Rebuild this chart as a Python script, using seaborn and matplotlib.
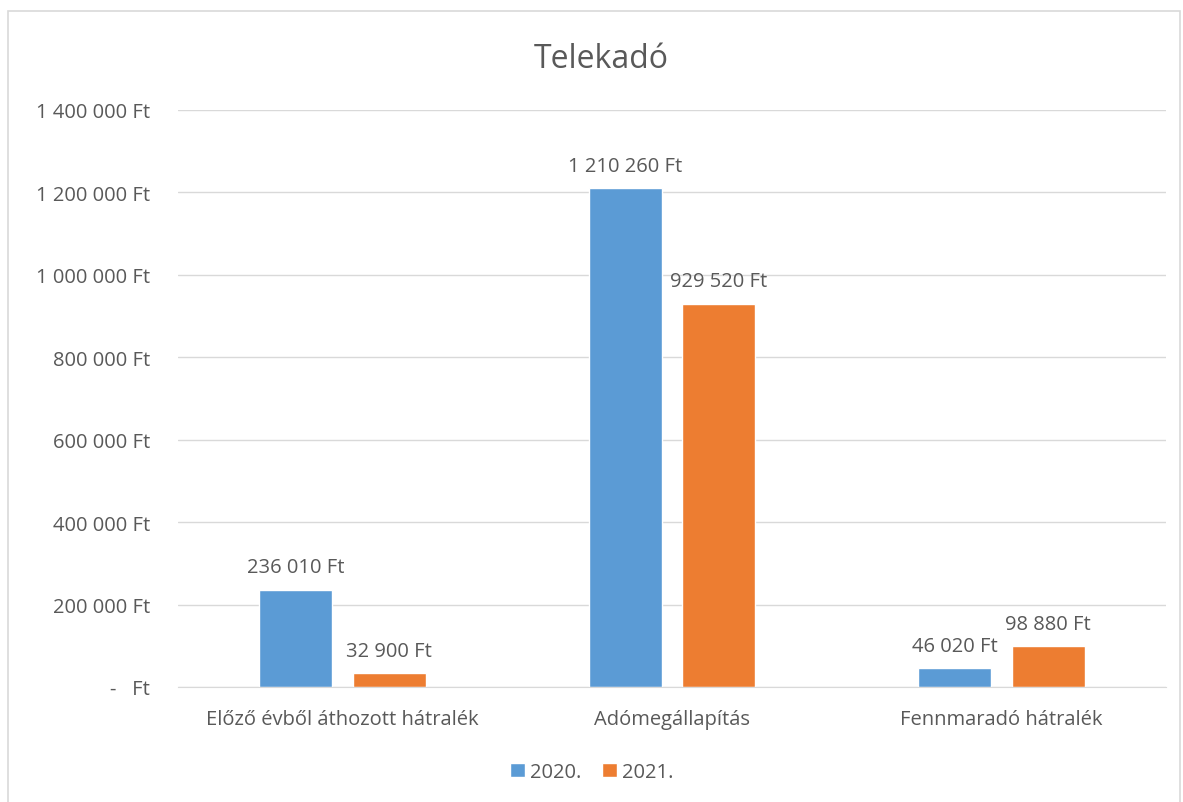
import pandas as pd
import matplotlib
matplotlib.use("Agg")
import matplotlib.pyplot as plt
import seaborn as sns
from matplotlib.patches import Rectangle
from matplotlib.ticker import FuncFormatter

categories = ["Előző évből áthozott hátralék", "Adómegállapítás", "Fennmaradó hátralék"]
years = ["2020.", "2021."]
values_2020 = [236010, 1210260, 46020]
values_2021 = [32900, 929520, 98880]
colors = ["#5B9BD5", "#ED7D31"]
text_color = "#595959"

df = pd.DataFrame({
    "category": categories * 2,
    "year": [years[0]] * 3 + [years[1]] * 3,
    "value": values_2020 + values_2021,
})

sns.set_style("white")
plt.rcParams["font.family"] = ["Open Sans", "DejaVu Sans"]
fs = 14.5

fig = plt.figure(figsize=(11.83, 8.03), dpi=100)
fig.patches.append(Rectangle((8 / 1183, -0.01), 1172 / 1183, 1 - 12 / 803 + 0.01,
                             transform=fig.transFigure, fill=False,
                             edgecolor="#D9D9D9", linewidth=1.2))
ax = fig.add_axes([178 / 1183, 1 - 688 / 803, 988 / 1183, 577 / 803])

sns.barplot(data=df, x="category", y="value", hue="year", palette=colors,
            width=0.568, gap=0.22, order=categories, hue_order=years,
            ax=ax, saturation=1, legend=True)

ax.set_ylim(0, 1400000)
ax.set_yticks(range(0, 1400001, 200000))


def fmt(v, pos):
    if v == 0:
        return "-   Ft"
    return f"{v:,.0f}".replace(",", " ") + " Ft"


ax.yaxis.set_major_formatter(FuncFormatter(fmt))
ax.grid(axis="y", color="#D9D9D9", linewidth=1)
ax.set_axisbelow(True)
for s in ["left", "right", "top"]:
    ax.spines[s].set_visible(False)
ax.spines["bottom"].set_color("#D9D9D9")
ax.tick_params(axis="y", length=0, pad=20, labelsize=fs, labelcolor=text_color)
ax.tick_params(axis="x", length=0, pad=16, labelsize=fs, labelcolor=text_color)
ax.set_xlabel("")
ax.set_ylabel("")

for cont in ax.containers:
    labels = [f"{v:,.0f}".replace(",", " ") + " Ft" for v in cont.datavalues]
    ax.bar_label(cont, labels=labels, padding=9, fontsize=fs, color=text_color)

fig.text(0.508, 1 - 60 / 803, "Telekadó", fontsize=23, color=text_color,
         ha="center", va="center")

handles, labels = ax.get_legend_handles_labels()
ax.get_legend().remove()
fig.legend(handles, labels, loc="center", bbox_to_anchor=(0.5, 1 - 773 / 803),
           ncol=2, frameon=False, fontsize=fs, labelcolor=text_color,
           handlelength=0.75, handleheight=0.75, handletextpad=0.25, columnspacing=1.0)

fig.savefig("out.png", dpi=100)
